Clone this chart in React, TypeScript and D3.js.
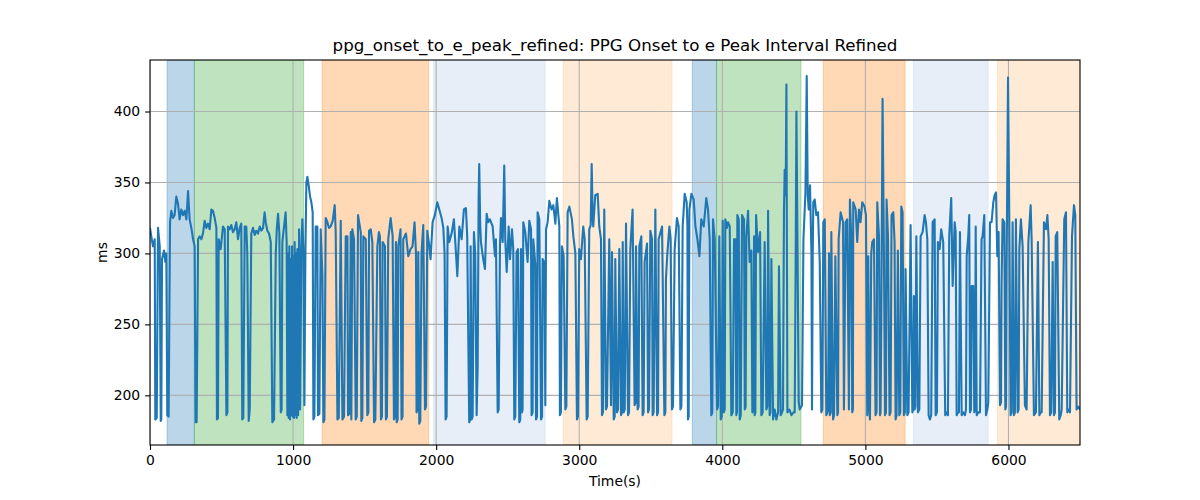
import * as d3 from "d3";
import { useEffect, useRef } from "react";

const title = "ppg_onset_to_e_peak_refined: PPG Onset to e Peak Interval Refined";
const xLabel = "Time(s)";
const yLabel = "ms";

const xTicks = [0, 1000, 2000, 3000, 4000, 5000, 6000];
const yTicks = [200, 250, 300, 350, 400];
const xDomain: [number, number] = [0, 6500];
const yDomain: [number, number] = [165, 436.3];

// shaded phases: [start, end, kind]
const spans: [number, number, string][] = [
  [119, 310, "blue"],
  [310, 1074, "green"],
  [1203, 1948, "orange"],
  [1981, 2762, "lightblue"],
  [2888, 3648, "lightorange"],
  [3790, 3960, "blue"],
  [3960, 4550, "green"],
  [4706, 5278, "orange"],
  [5336, 5858, "lightblue"],
  [5923, 6500, "lightorange"],
];

const spanColor: Record<string, string> = {
  blue: "#1f77b4",
  green: "#2ca02c",
  orange: "#ff7f0e",
  lightblue: "#aec7e8",
  lightorange: "#ffbb78",
};

// trace, [time s, value ms]
const win0000: [number, number][] = [
  [0, 318], [9, 312], [21, 305], [33, 310], [37, 183], [47, 184], [56, 318], [68, 305],
  [75, 182], [79, 183], [84, 296], [98, 302], [107, 294], [114, 300], [121, 186], [130, 185],
  [140, 322], [149, 330], [161, 325], [172, 327], [184, 340], [196, 335], [207, 324], [219, 331],
  [231, 327], [242, 330], [254, 324], [266, 344], [277, 324], [289, 318], [301, 310], [312, 305],
  [319, 181], [326, 181], [336, 310], [347, 312], [359, 310], [370, 314], [382, 323], [394, 318],
  [405, 321], [417, 317], [429, 331], [440, 330], [452, 325], [464, 318], [468, 183], [475, 184],
  [480, 310], [494, 303], [510, 319], [522, 317], [534, 186], [541, 188], [545, 319], [557, 317],
  [568, 320], [580, 315], [592, 317], [603, 322], [615, 310], [627, 318], [638, 321], [645, 183],
  [652, 184], [662, 319], [673, 319], [680, 300], [690, 182], [697, 190], [708, 314], [720, 318],
  [732, 313], [743, 316], [755, 314], [767, 319], [778, 316], [790, 318],
];

const win0800: [number, number][] = [
  [801, 329], [809, 322], [820, 316], [832, 314], [844, 308], [855, 181], [867, 183], [879, 300],
  [886, 317], [895, 328], [904, 314], [914, 188], [920, 190], [925, 308], [937, 319], [948, 329],
  [955, 308], [960, 186], [965, 300], [969, 184], [974, 305], [979, 183], [983, 296], [988, 186],
  [993, 305], [997, 185], [1002, 298], [1007, 184], [1011, 308], [1016, 186], [1021, 300], [1025, 184],
  [1030, 303], [1035, 186], [1042, 317], [1049, 190], [1058, 305], [1065, 324], [1072, 301], [1079, 193],
  [1086, 300], [1093, 350], [1100, 354], [1109, 348], [1119, 340], [1128, 336], [1137, 329], [1142, 183],
  [1149, 185], [1158, 319], [1170, 319], [1174, 186], [1184, 187], [1193, 317], [1205, 284], [1212, 181],
  [1219, 183], [1228, 325], [1240, 322], [1251, 318], [1263, 319], [1277, 323], [1291, 334], [1298, 315],
  [1310, 183], [1319, 184], [1333, 323], [1345, 183], [1356, 185], [1368, 312], [1380, 312], [1384, 186],
  [1394, 187], [1403, 315], [1407, 183], [1414, 317], [1426, 310], [1438, 183], [1445, 185], [1454, 327],
  [1473, 315], [1477, 182], [1484, 184], [1491, 312], [1508, 310], [1519, 186], [1526, 188], [1531, 316],
  [1543, 317], [1554, 308], [1566, 181], [1575, 183], [1589, 305], [1600, 315],
];

const win1600: [number, number][] = [
  [1607, 312], [1614, 183], [1621, 185], [1626, 308], [1642, 305], [1649, 183], [1656, 185], [1665, 310],
  [1682, 325], [1696, 312], [1705, 183], [1712, 185], [1719, 308], [1724, 181], [1731, 183], [1735, 305],
  [1751, 317], [1758, 183], [1765, 185], [1770, 310], [1789, 314], [1805, 298], [1821, 303], [1835, 305],
  [1849, 322], [1859, 300], [1863, 188], [1870, 190], [1875, 301], [1882, 180], [1889, 182], [1898, 301],
  [1910, 320], [1922, 190], [1929, 192], [1938, 316], [1952, 305], [1961, 296], [1975, 322], [1991, 327],
  [2008, 336], [2022, 331], [2038, 325], [2050, 318], [2059, 300], [2066, 183], [2073, 185], [2080, 319],
  [2092, 308], [2108, 314], [2124, 324], [2138, 301], [2148, 284], [2162, 319], [2178, 310], [2194, 331],
  [2208, 332], [2217, 312], [2231, 181], [2238, 183], [2241, 305], [2248, 183], [2255, 185], [2264, 315],
  [2273, 300], [2283, 186], [2290, 220], [2297, 340], [2301, 363], [2308, 320], [2313, 308], [2329, 296],
  [2341, 289], [2353, 328], [2364, 322], [2376, 324], [2395, 319], [2411, 298],
];

const win2400: [number, number][] = [
  [2418, 310], [2430, 188], [2437, 190], [2446, 305], [2453, 325], [2465, 308], [2476, 362], [2483, 310],
  [2493, 287], [2507, 319], [2516, 296], [2530, 317], [2539, 303], [2546, 183], [2553, 185], [2562, 301],
  [2572, 303], [2581, 181], [2588, 183], [2593, 303], [2600, 188], [2604, 190], [2609, 322], [2623, 315],
  [2639, 294], [2651, 323], [2663, 317], [2667, 186], [2674, 188], [2679, 310], [2693, 292], [2698, 183],
  [2705, 185], [2709, 329], [2721, 324], [2733, 183], [2740, 185], [2744, 296], [2756, 294], [2763, 193],
  [2768, 317], [2779, 322], [2791, 337], [2807, 331], [2819, 334], [2833, 321], [2844, 339], [2861, 319],
  [2865, 186], [2872, 188], [2879, 305], [2891, 298], [2903, 190], [2910, 192], [2919, 329], [2931, 333],
  [2949, 324], [2959, 312], [2973, 300], [2984, 183], [2991, 185], [3000, 303], [3012, 296], [3028, 319],
  [3038, 310], [3052, 183], [3059, 185], [3070, 317], [3080, 320], [3087, 363], [3094, 325], [3098, 319],
  [3112, 341], [3129, 342], [3140, 319], [3152, 310], [3159, 186], [3166, 188], [3175, 331], [3187, 190],
  [3194, 192], [3210, 310], [3222, 193],
];

const win3200: [number, number][] = [
  [3229, 301], [3241, 183], [3248, 185], [3252, 296], [3264, 188], [3271, 190], [3280, 303], [3292, 186],
  [3299, 188], [3304, 308], [3311, 188], [3318, 190], [3327, 321], [3341, 186], [3348, 188], [3357, 303],
  [3373, 331], [3387, 193], [3394, 195], [3397, 305], [3408, 190], [3415, 192], [3420, 305], [3434, 312],
  [3443, 186], [3450, 188], [3457, 294], [3474, 307], [3481, 188], [3488, 190], [3497, 316], [3509, 310],
  [3513, 186], [3520, 188], [3532, 331], [3544, 186], [3551, 188], [3555, 310], [3579, 319], [3595, 186],
  [3602, 188], [3606, 282], [3616, 300], [3630, 319], [3639, 310], [3648, 190], [3655, 192], [3667, 303],
  [3683, 325], [3695, 319], [3707, 190], [3714, 192], [3723, 319], [3737, 342], [3751, 336], [3756, 320],
  [3760, 183], [3765, 185], [3770, 331], [3784, 342], [3800, 338], [3812, 319], [3826, 310], [3840, 298],
  [3853, 324], [3870, 319], [3888, 339], [3900, 331], [3912, 310], [3923, 186], [3930, 188], [3935, 324],
  [3947, 310], [3963, 190], [3970, 192], [3979, 312], [3989, 183], [3996, 185], [4003, 323], [4010, 188],
  [4017, 190], [4021, 324], [4033, 318],
];

const win4000: [number, number][] = [
  [4040, 322], [4052, 319], [4063, 186], [4073, 188], [4082, 310], [4091, 310], [4098, 186], [4103, 188],
  [4105, 327], [4115, 324], [4122, 183], [4129, 186], [4138, 327], [4152, 324], [4157, 190], [4163, 192],
  [4168, 312], [4180, 330], [4191, 294], [4203, 302], [4210, 188], [4217, 190], [4222, 312], [4226, 186],
  [4231, 188], [4236, 327], [4250, 301], [4264, 315], [4273, 186], [4282, 188], [4296, 308], [4308, 190],
  [4315, 192], [4320, 330], [4331, 186], [4336, 188], [4343, 296], [4355, 183], [4366, 190], [4378, 183],
  [4390, 188], [4396, 291], [4408, 186], [4417, 188], [4424, 190], [4431, 330], [4436, 359], [4443, 341],
  [4448, 419], [4455, 188], [4469, 190], [4483, 186], [4497, 188], [4506, 188], [4513, 300], [4518, 400],
  [4525, 312], [4534, 195], [4541, 190], [4557, 193], [4567, 310], [4571, 319], [4581, 343], [4590, 425],
  [4597, 341], [4604, 331], [4613, 348], [4623, 300], [4627, 190], [4632, 300], [4636, 336], [4646, 338],
  [4657, 327], [4669, 329], [4681, 294], [4692, 188], [4699, 190], [4706, 322], [4716, 324], [4727, 186],
  [4734, 188], [4739, 190], [4746, 300], [4751, 186], [4758, 188], [4762, 315], [4774, 183], [4781, 186],
  [4790, 298], [4804, 186], [4809, 188], [4813, 310], [4827, 329], [4844, 322],
];

const win4850: [number, number][] = [
  [4850, 190], [4862, 322], [4873, 324], [4885, 190], [4892, 338], [4901, 312], [4908, 188], [4913, 190],
  [4915, 336], [4932, 331], [4943, 308], [4955, 331], [4966, 322], [4978, 336], [4994, 333], [5004, 327],
  [5013, 186], [5020, 298], [5027, 190], [5032, 183], [5041, 300], [5048, 308], [5060, 310], [5071, 186],
  [5078, 188], [5083, 336], [5095, 312], [5102, 186], [5106, 188], [5111, 250], [5120, 409], [5130, 296],
  [5137, 186], [5144, 188], [5148, 338], [5158, 312], [5169, 186], [5176, 188], [5183, 327], [5195, 329],
  [5204, 308], [5211, 183], [5218, 186], [5227, 302], [5237, 186], [5244, 188], [5251, 333], [5260, 329],
  [5269, 186], [5276, 188], [5281, 289], [5293, 186], [5302, 188], [5316, 320], [5328, 188], [5335, 190],
  [5339, 270], [5344, 190], [5349, 192], [5356, 312], [5367, 188], [5377, 190], [5386, 312], [5400, 315],
  [5414, 327], [5423, 322], [5433, 310], [5442, 186], [5451, 183], [5460, 186], [5470, 322], [5484, 324],
  [5491, 186], [5500, 188], [5507, 308], [5519, 303], [5530, 317], [5544, 308], [5558, 186], [5568, 188],
  [5577, 186], [5586, 312], [5600, 339], [5610, 277], [5624, 322], [5631, 315], [5638, 186], [5647, 188],
  [5654, 188],
];

const win5660: [number, number][] = [
  [5661, 315], [5673, 186], [5684, 188], [5696, 186], [5703, 190], [5708, 298], [5719, 312], [5726, 327],
  [5731, 188], [5738, 190], [5743, 277], [5754, 277], [5761, 188], [5766, 190], [5771, 319], [5778, 186],
  [5789, 188], [5801, 188], [5812, 310], [5819, 312], [5831, 327], [5843, 186], [5852, 190], [5859, 195],
  [5871, 322], [5882, 322], [5894, 336], [5903, 341], [5913, 343], [5922, 298], [5931, 315], [5941, 193],
  [5948, 195], [5952, 280], [5959, 324], [5971, 322], [5978, 190], [5983, 192], [5987, 289], [5997, 424],
  [6006, 322], [6015, 186], [6022, 188], [6029, 322], [6038, 186], [6045, 188], [6052, 324], [6064, 188],
  [6071, 190], [6076, 303], [6087, 324], [6099, 305], [6115, 193], [6127, 190], [6139, 308], [6155, 334],
  [6162, 310], [6178, 186], [6192, 188], [6206, 308], [6216, 186], [6225, 188], [6232, 188], [6248, 322],
  [6262, 317], [6272, 327], [6281, 310], [6290, 186], [6299, 188], [6309, 294], [6318, 186], [6325, 188],
  [6330, 312], [6341, 315], [6355, 183], [6365, 186], [6372, 190], [6390, 324], [6402, 329], [6411, 188],
  [6421, 190], [6430, 188], [6444, 312], [6458, 334], [6467, 327], [6476, 190], [6488, 192], [6500, 190],
];

const trace = [
  ...win0000, ...win0800, ...win1600, ...win2400,
  ...win3200, ...win4000, ...win4850, ...win5660,
];

export default function App() {
  const svgRef = useRef<SVGSVGElement | null>(null);

  useEffect(() => {
    if (!svgRef.current) return;
    const svg = d3.select(svgRef.current);
    const width = 1200;
    const height = 500;
    const margin = { top: 60, right: 120, bottom: 55, left: 150 };
    const innerW = width - margin.left - margin.right;
    const innerH = height - margin.top - margin.bottom;
    const font = "DejaVu Sans, sans-serif";

    svg.selectAll("*").remove();
    svg.attr("viewBox", `0 0 ${width} ${height}`);

    const x = d3.scaleLinear().domain(xDomain).range([margin.left, width - margin.right]);
    const y = d3.scaleLinear().domain(yDomain).range([height - margin.bottom, margin.top]);

    svg
      .append("defs")
      .append("clipPath")
      .attr("id", "plot-clip")
      .append("rect")
      .attr("x", margin.left)
      .attr("y", margin.top)
      .attr("width", innerW)
      .attr("height", innerH);

    const plot = svg.append("g").attr("clip-path", "url(#plot-clip)");

    plot
      .selectAll("rect.span")
      .data(spans)
      .join("rect")
      .attr("class", "span")
      .attr("x", (d) => x(d[0]))
      .attr("width", (d) => x(d[1]) - x(d[0]))
      .attr("y", margin.top)
      .attr("height", innerH)
      .attr("fill", (d) => spanColor[d[2]])
      .attr("fill-opacity", 0.3)
      .attr("stroke", (d) => spanColor[d[2]])
      .attr("stroke-opacity", 0.3)
      .attr("stroke-width", 1);

    // grid
    plot
      .selectAll("line.gx")
      .data(xTicks)
      .join("line")
      .attr("x1", (d) => x(d))
      .attr("x2", (d) => x(d))
      .attr("y1", margin.top)
      .attr("y2", height - margin.bottom)
      .attr("stroke", "#b0b0b0")
      .attr("stroke-width", 1.1);
    plot
      .selectAll("line.gy")
      .data(yTicks)
      .join("line")
      .attr("x1", margin.left)
      .attr("x2", width - margin.right)
      .attr("y1", (d) => y(d))
      .attr("y2", (d) => y(d))
      .attr("stroke", "#b0b0b0")
      .attr("stroke-width", 1.1);

    const line = d3
      .line<[number, number]>()
      .x((d) => x(d[0]))
      .y((d) => y(d[1]));

    plot
      .append("path")
      .datum(trace)
      .attr("fill", "none")
      .attr("stroke", "#1f77b4")
      .attr("stroke-width", 2.1)
      .attr("stroke-linejoin", "round")
      .attr("d", line);

    const xAxis = d3.axisBottom(x).tickValues(xTicks).tickSize(4.9).tickPadding(4.9).tickSizeOuter(0).tickFormat(d3.format("d"));
    const yAxis = d3.axisLeft(y).tickValues(yTicks).tickSize(4.9).tickPadding(4.9).tickSizeOuter(0).tickFormat(d3.format("d"));

    const gx = svg.append("g").attr("transform", `translate(0,${height - margin.bottom})`).call(xAxis as any);
    const gy = svg.append("g").attr("transform", `translate(${margin.left},0)`).call(yAxis as any);
    [gx, gy].forEach((g) => {
      g.select(".domain").remove();
      g.selectAll("line").attr("stroke", "#000").attr("stroke-width", 1.1);
      g.selectAll("text").attr("fill", "#000").attr("font-size", 13.9).attr("font-family", font);
    });

    svg
      .append("rect")
      .attr("x", margin.left)
      .attr("y", margin.top)
      .attr("width", innerW)
      .attr("height", innerH)
      .attr("fill", "none")
      .attr("stroke", "#000")
      .attr("stroke-width", 1.1);

    svg
      .append("text")
      .attr("x", margin.left + innerW / 2)
      .attr("y", 51)
      .attr("text-anchor", "middle")
      .attr("font-family", font)
      .attr("font-size", 16.7)
      .text(title);

    svg
      .append("text")
      .attr("x", margin.left + innerW / 2)
      .attr("y", 486)
      .attr("text-anchor", "middle")
      .attr("font-family", font)
      .attr("font-size", 13.9)
      .text(xLabel);

    svg
      .append("text")
      .attr("transform", `translate(107,${margin.top + innerH / 2}) rotate(-90)`)
      .attr("text-anchor", "middle")
      .attr("font-family", font)
      .attr("font-size", 13.9)
      .text(yLabel);
  }, []);

  return (
    <svg
      ref={svgRef}
      width={1200}
      height={500}
      style={{ position: "absolute", left: 0, top: 0, background: "#fff" }}
      aria-label="PPG onset to e peak interval chart"
    />
  );
}
